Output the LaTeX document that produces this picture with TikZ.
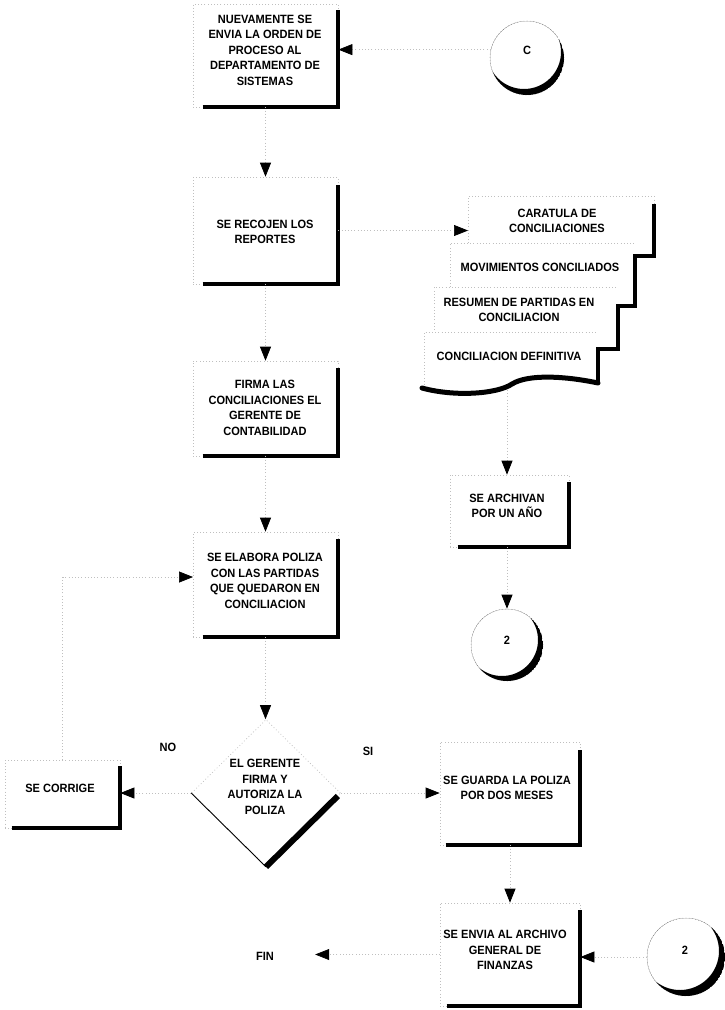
\documentclass[tikz,border=0pt]{standalone}
\usepackage{fontspec}
\setmainfont{Liberation Sans}[FakeStretch=0.92]
\usetikzlibrary{arrows.meta,shapes.geometric,calc}
\begin{document}
\begin{tikzpicture}[x=1pt,y=-1pt,
  faint/.style={draw=gray!50, dash pattern=on 0.8pt off 2.4pt, line width=0.7pt},
  pbox/.style={rectangle, faint, fill=white, inner sep=0pt},
  txt/.style={inner sep=0pt, align=center, font=\bfseries\fontsize{12}{15.5}\selectfont},
  heavyedge/.style={draw=black, solid, line width=4pt, line join=miter, line cap=butt},
  conn/.style={draw=gray!50, dash pattern=on 0.8pt off 2.4pt, line width=0.7pt},
  arr/.style={conn, -{Triangle[width=11pt,length=14pt,color=black]}},
  conncirc/.style={circle, faint, inner sep=0pt},
  diam/.style={diamond, faint, inner sep=0pt},
]
\fill[white] (0,0) rectangle (725,1010);
\useasboundingbox (0,0) rectangle (725,1010);

% ---------- left column boxes ----------
\node[pbox, minimum width=145pt, minimum height=103pt] (b1) at (265.5,55.5) {};
\draw[heavyedge] ($(b1.south west)+(10,0)$) -- (b1.south east) -- ($(b1.north east)+(0,6)$);
\node[txt] (b1t) at (265,50) {NUEVAMENTE SE\\ENVIA LA ORDEN DE\\PROCESO AL\\DEPARTAMENTO DE\\SISTEMAS};

\node[pbox, minimum width=145pt, minimum height=107pt] (b2) at (265.5,230.5) {};
\draw[heavyedge] ($(b2.south west)+(10,0)$) -- (b2.south east) -- ($(b2.north east)+(0,8)$);
\node[txt] (b2t) at (265,232) {SE RECOJEN LOS\\REPORTES};

\node[pbox, minimum width=145pt, minimum height=95pt] (b3) at (265.5,408.5) {};
\draw[heavyedge] ($(b3.south west)+(10,0)$) -- (b3.south east) -- ($(b3.north east)+(0,7)$);
\node[txt] (b3t) at (265,408) {FIRMA LAS\\CONCILIACIONES EL\\GERENTE DE\\CONTABILIDAD};

\node[pbox, minimum width=145pt, minimum height=105pt] (b4) at (265.5,584.5) {};
\draw[heavyedge] ($(b4.south west)+(10,0)$) -- (b4.south east) -- ($(b4.north east)+(0,7)$);
\node[txt] (b4t) at (265,581) {SE ELABORA POLIZA\\CON LAS PARTIDAS\\QUE QUEDARON EN\\CONCILIACION};

% ---------- connector C ----------
\node[conncirc, minimum size=74pt] (cC) at (527,58) {};
\begin{scope}
  \clip (cC.center) circle[radius=37pt];
  \fill[black, even odd rule] (cC.center) circle[radius=37pt] ($(cC.center)+(-3,-6)$) circle[radius=37pt];
\end{scope}
\node[txt] (cCt) at (527,50) {C};

% ---------- multiple documents ----------
\fill[white] (468,196) rectangle (654,256);
\draw[faint] (468,256) -- (468,196) -- (654,196) -- (654,204);
\fill[white] (450,243) rectangle (635,306);
\draw[faint] (450,306) -- (450,243) -- (635,243);
\fill[white] (434,287) rectangle (618,349);
\draw[faint] (434,349) -- (434,287) -- (618,287);
\fill[white] (424,332) -- (598,332) -- (598,383) .. controls (565,376) and (528,374) .. (512,384) .. controls (497,394) and (455,397) .. (422,388) -- cycle;
\draw[faint] (424,388) -- (424,332) -- (598,332);
\draw[heavyedge] (654,204) -- (654,256) -- (635,256) -- (635,306) -- (618,306) -- (618,349) -- (598,349) -- (598,383);
\draw[heavyedge, line width=5pt, line cap=round] (598,383) .. controls (565,376) and (528,374) .. (512,384) .. controls (497,394) and (455,397) .. (422,388);
\node[txt] (d1) at (557,221) {CARATULA DE\\CONCILIACIONES};
\node[txt] (d2) at (540,267) {MOVIMIENTOS CONCILIADOS};
\node[txt] (d3) at (519,310) {RESUMEN DE PARTIDAS EN\\CONCILIACION};
\node[txt] (d4) at (509,356) {CONCILIACION DEFINITIVA};
\coordinate (dIn) at (468,230);
\coordinate (dOut) at (507,390);

% ---------- archive branch ----------
\node[pbox, minimum width=119pt, minimum height=72pt] (b5) at (509.5,511) {};
\draw[heavyedge] ($(b5.south west)+(8,0)$) -- (b5.south east) -- ($(b5.north east)+(0,7)$);
\node[txt] (b5t) at (507,506) {SE ARCHIVAN\\POR UN AÑO};

\node[conncirc, minimum size=72pt] (c2a) at (507,645) {};
\begin{scope}
  \clip (c2a.center) circle[radius=36pt];
  \fill[black, even odd rule] (c2a.center) circle[radius=36pt] ($(c2a.center)+(-5,-5)$) circle[radius=36pt];
\end{scope}
\node[txt] (c2at) at (507,640) {2};

% ---------- decision ----------
\node[diam, minimum width=149pt, minimum height=147pt] (dec) at (266,793) {};
\draw[black, line width=0.9pt] (dec.west) -- (dec.south);
\draw[black, line width=6pt] (dec.south) -- ($(dec.south)!0.96!(dec.east)$);
\node[txt] (dect) at (265,787) {EL GERENTE\\FIRMA Y\\AUTORIZA LA\\POLIZA};
\node[txt] (lno) at (168,747) {NO};
\node[txt] (lsi) at (368,751) {SI};

\node[pbox, minimum width=115pt, minimum height=68pt] (corr) at (62.5,794) {};
\draw[heavyedge] ($(corr.south west)+(7,0)$) -- (corr.south east) -- ($(corr.north east)+(0,6)$);
\node[txt] (corrt) at (60,788) {SE CORRIGE};
\coordinate (b4in) at (193,577);

\node[pbox, minimum width=140pt, minimum height=103pt] (guar) at (510,793.5) {};
\draw[heavyedge] ($(guar.south west)+(6,0)$) -- (guar.south east) -- ($(guar.north east)+(0,8)$);
\node[txt] (guart) at (507,788) {SE GUARDA LA POLIZA\\POR DOS MESES};

\node[pbox, minimum width=140pt, minimum height=103pt] (env) at (510,954.5) {};
\draw[heavyedge] ($(env.south west)+(7,0)$) -- (env.south east) -- ($(env.north east)+(0,7)$);
\node[txt] (envt) at (505,950) {SE ENVIA AL ARCHIVO\\GENERAL DE\\FINANZAS};

\node[conncirc, minimum size=78pt] (c2b) at (686,957) {};
\begin{scope}
  \clip (c2b.center) circle[radius=39pt];
  \fill[black, even odd rule] (c2b.center) circle[radius=39pt] ($(c2b.center)+(-6,-6)$) circle[radius=39pt];
\end{scope}
\node[txt] (c2bt) at (685,950) {2};

\node[txt, minimum width=100pt] (fin) at (265,956) {FIN};

% ---------- connectors ----------
\draw[arr] (cC.167) -- (cC.167 -| b1.east);
\draw[arr] (b1.south) -- (b2.north);
\draw[arr] (b2.east) -- (b2.east -| dIn);
\draw[arr] (b2.south) -- (b3.north);
\draw[arr] (b3.south) -- (b4.north);
\draw[arr] (dOut) -- (dOut |- b5.north);
\draw[arr] (c2a.north |- b5.south) -- (c2a.north);
\draw[arr] (b4.south) -- (b4.south |- dec.north);
\draw[arr] (dec.west) -- (dec.west -| corr.east);
\draw[arr] (corr.north) |- (b4in);
\draw[arr] (dec.east) -- (dec.east -| guar.west);
\draw[arr] (guar.south) -- (env.north);
\draw[arr] (c2b.west) -- (c2b.west -| env.east);
\draw[arr] (env.west) -- (env.west -| fin.east);
\end{tikzpicture}
\end{document}
